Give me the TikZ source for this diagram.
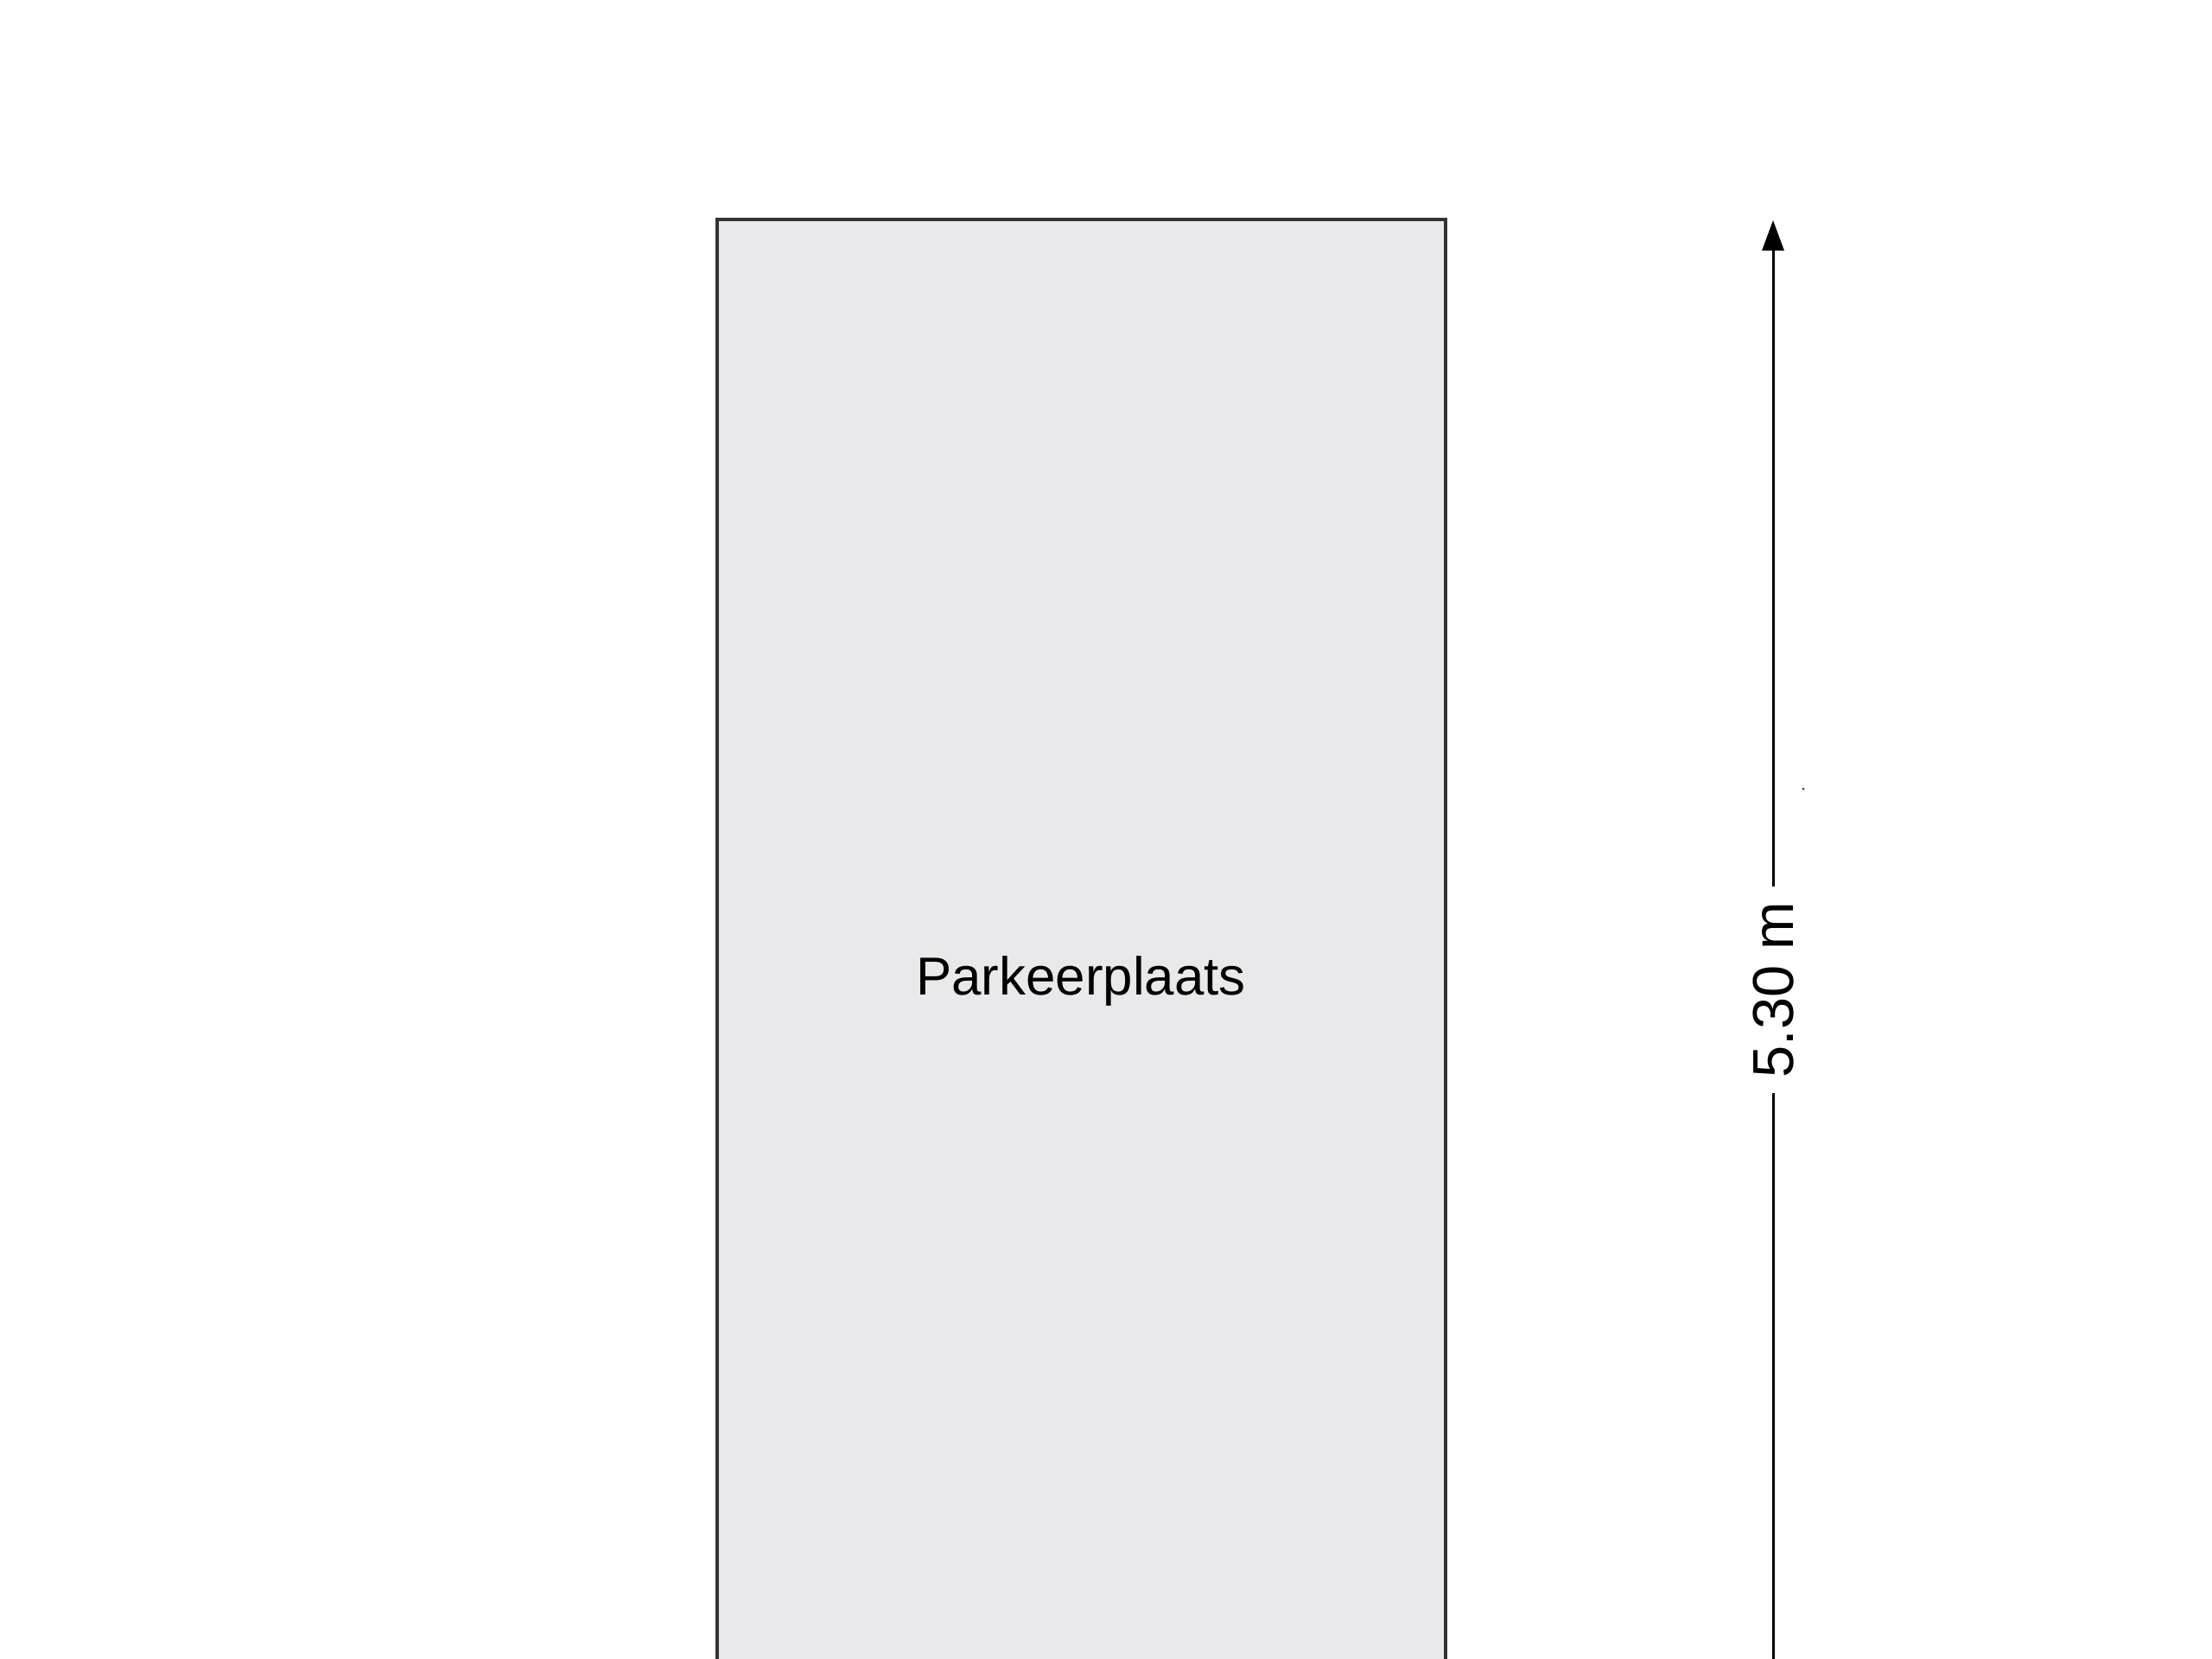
\documentclass[tikz,border=0pt]{standalone}
\usepackage{fontspec}
\setmainfont{Liberation Sans}
\usetikzlibrary{arrows.meta}
\definecolor{roomfill}{HTML}{E9E9EB}
\definecolor{roomline}{HTML}{333333}
\begin{document}
\begin{tikzpicture}
\useasboundingbox (0,0) rectangle (25.6,19.2);
\clip (0,0) rectangle (25.6,19.2);
\tikzset{
  room/.style={draw=roomline, fill=roomfill, line width=0.04cm},
  dimline/.style={draw=black, line width=0.03cm},
  dimlabel/.style={font=\fontsize{19}{22}\selectfont, rotate=90, inner xsep=0.17cm, inner ysep=0pt},
  roomlabel/.style={font=\fontsize{17.6}{21}\selectfont, inner sep=0pt, anchor=base}
}
\path[room] (8.30,-1) rectangle (16.73,16.66);
\node[roomlabel] (pk) at (12.51,7.68) {Parkeerplaats};
\coordinate (dbot) at (20.52,-1);
\coordinate (dtop) at (20.52,16.65);
\node[dimlabel] (dl) at (20.52,7.745) {5.30 m};
\draw[dimline] (dbot) -- (dl.west);
\draw[dimline, -{Triangle[length=0.35cm,width=0.25cm]}] (dl.east) -- (dtop);
\fill[black!70] (20.87,10.07) circle (0.016cm);
\end{tikzpicture}
\end{document}
